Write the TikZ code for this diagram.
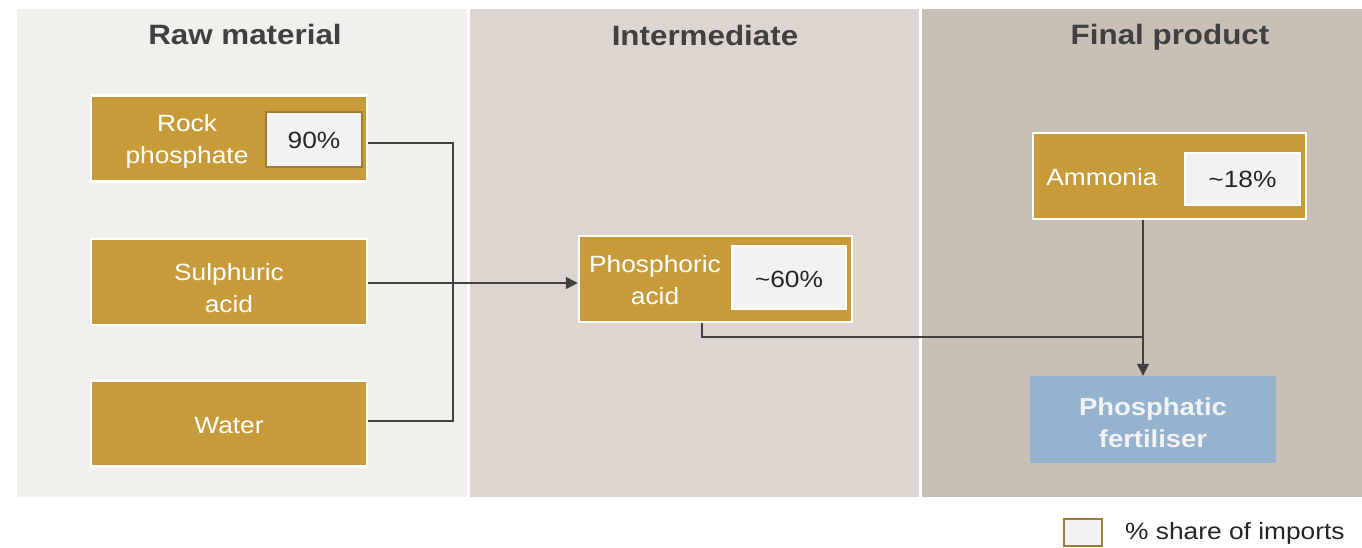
\documentclass[tikz,border=0pt]{standalone}
\usepackage{fontspec}
\setmainfont{Liberation Sans}[FakeStretch=1.12]
\usetikzlibrary{arrows.meta}

\definecolor{rawbg}{HTML}{F1F0ED}
\definecolor{midbg}{HTML}{DDD6D0}
\definecolor{finbg}{HTML}{C8C0B5}
\definecolor{gold}{HTML}{C89B3A}
\definecolor{golddark}{HTML}{9E7D30}
\definecolor{pctfill}{HTML}{F2F2F2}
\definecolor{fertblue}{HTML}{95B3CF}
\definecolor{ink}{HTML}{404040}
\definecolor{textdark}{HTML}{262626}

\tikzset{
  panel/.style={fill=#1, draw=none},
  heading/.style={text=ink, font=\fontsize{28}{32}\selectfont\bfseries, inner sep=0pt, anchor=base},
  goldbox/.style={fill=gold, draw=white, line width=2.5pt, inner sep=0pt,
    minimum width=#1, minimum height=86pt},
  goldbox/.default=276pt,
  pctbox/.style={fill=pctfill, draw=#1, line width=1.5pt, inner sep=0pt},
  pctbox/.default=golddark,
  boxtext/.style={text=white, align=center, inner sep=0pt,
    font=\fontsize{23.5}{32}\selectfont},
  pcttext/.style={text=textdark, inner sep=0pt, font=\fontsize{23.5}{32}\selectfont},
  conn/.style={draw=ink, line width=1.5pt},
  tip/.style={-{Triangle[length=12pt,width=12pt]}},
}

\begin{document}
\begin{tikzpicture}[x=1pt,y=-1pt]
  \useasboundingbox (0,0) rectangle (1362,548);
  \fill[white] (0,0) rectangle (1362,548);

  % three stage panels
  \fill[panel=rawbg] (17,9) rectangle (467,497);
  \fill[panel=midbg] (470,9) rectangle (919,497);
  \fill[panel=finbg] (922,9.5) rectangle (1362,497);

  \node[heading] (hraw) at (245,44.5) {Raw material};
  \node[heading] (hmid) at (705,45.5) {Intermediate};
  \node[heading] (hfin) at (1170,44.5) {Final product};

  % raw materials
  \node[goldbox] (rock) at (229,138.5) {};
  \node[boxtext] (rocktxt) at (187,141) {Rock\\phosphate};
  \node[pctbox, minimum width=96pt, minimum height=55pt] (rockpct) at (314,139.5) {};
  \node[pcttext] (rockpcttxt) at (314,140) {90\%};

  \node[goldbox] (sulph) at (229,282) {};
  \node[boxtext] (sulphtxt) at (229,288) {Sulphuric\\acid};

  \node[goldbox] (water) at (229,423.5) {};
  \node[boxtext] (watertxt) at (229,426) {Water};

  % intermediate
  \node[goldbox=273pt] (phos) at (715.5,279) {};
  \node[boxtext] (phostxt) at (655,280) {Phosphoric\\acid};
  \node[pctbox=white, minimum width=114pt, minimum height=63pt] (phospct) at (789,277.5) {};
  \node[pcttext] (phospcttxt) at (789,279) {\textasciitilde60\%};

  % final product
  \node[goldbox=273pt] (amm) at (1169.5,176) {};
  \node[boxtext] (ammtxt) at (1102,177) {Ammonia};
  \node[pctbox=white, minimum width=115pt, minimum height=52pt] (ammpct) at (1242.5,179) {};
  \node[pcttext] (ammpcttxt) at (1242.5,179) {\textasciitilde18\%};

  \node[fill=fertblue, draw=none, minimum width=246pt, minimum height=87pt, inner sep=0pt] (fert) at (1153,419.5) {};
  \node[text=pctfill, align=center, inner sep=0pt,
    font=\fontsize{24.5}{32}\selectfont\bfseries] (ferttxt) at (1153,423) {Phosphatic\\fertiliser};

  % connectors
  \coordinate (bus) at (453,283);
  \coordinate (merge) at (1143,337);
  \draw[conn] ([yshift=-4.5pt]rock.east) -| (bus) |- ([yshift=2.5pt]water.east);
  \draw[conn, tip] ([yshift=-1pt]sulph.east) -- ([yshift=-1pt]sulph.east -| phos.west);
  \draw[conn] ([xshift=-13.5pt]phos.south) |- (merge);
  \draw[conn, tip] (amm.south -| merge) -- (fert.north -| merge);

  % legend
  \node[pctbox, line width=2pt, minimum width=38pt, minimum height=27pt] (legbox) at (1083,532.5) {};
  \node[pcttext, anchor=west] (legtxt) at (1125,533) {\% share of imports};
\end{tikzpicture}
\end{document}
